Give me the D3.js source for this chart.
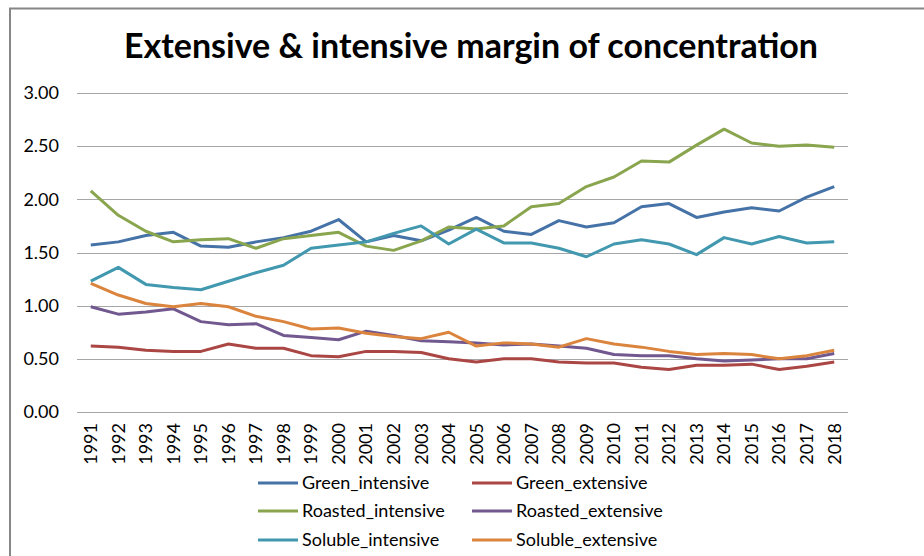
<!DOCTYPE html>
<html>
<head>
<meta charset="utf-8">
<script src="https://cdn.jsdelivr.net/npm/d3@7"></script>
<style>
  body { margin: 0; background: #fff; }
  text { font-family: Lato, "Open Sans", sans-serif; fill: #000; }
</style>
</head>
<body>
<svg id="chart" width="924" height="556"></svg>
<script>
const years = d3.range(1991, 2019).map(String);

const greenIntensive = [1.57, 1.60, 1.66, 1.69, 1.56, 1.55, 1.60, 1.64, 1.70, 1.81, 1.60, 1.66, 1.61, 1.71,
  1.83, 1.70, 1.67, 1.80, 1.74, 1.78, 1.93, 1.96, 1.83, 1.88, 1.92, 1.89, 2.02, 2.12];
const greenExtensive = [0.62, 0.61, 0.58, 0.57, 0.57, 0.64, 0.60, 0.60, 0.53, 0.52, 0.57, 0.57, 0.56, 0.50,
  0.47, 0.50, 0.50, 0.47, 0.46, 0.46, 0.42, 0.40, 0.44, 0.44, 0.45, 0.40, 0.43, 0.47];
const roastedIntensive = [2.08, 1.85, 1.70, 1.60, 1.62, 1.63, 1.54, 1.63, 1.66, 1.69, 1.56, 1.52, 1.61, 1.74,
  1.72, 1.75, 1.93, 1.96, 2.12, 2.21, 2.36, 2.35, 2.51, 2.66, 2.53, 2.50, 2.51, 2.49];
const roastedExtensive = [0.99, 0.92, 0.94, 0.97, 0.85, 0.82, 0.83, 0.72, 0.70, 0.68, 0.76, 0.72, 0.67, 0.66,
  0.65, 0.63, 0.64, 0.62, 0.60, 0.54, 0.53, 0.53, 0.50, 0.48, 0.49, 0.50, 0.50, 0.55];
const solubleIntensive = [1.23, 1.36, 1.20, 1.17, 1.15, 1.23, 1.31, 1.38, 1.54, 1.57, 1.60, 1.68, 1.75, 1.58,
  1.72, 1.59, 1.59, 1.54, 1.46, 1.58, 1.62, 1.58, 1.48, 1.64, 1.58, 1.65, 1.59, 1.60];
const solubleExtensive = [1.21, 1.10, 1.02, 0.99, 1.02, 0.99, 0.90, 0.85, 0.78, 0.79, 0.74, 0.71, 0.69, 0.75,
  0.62, 0.65, 0.64, 0.61, 0.69, 0.64, 0.61, 0.57, 0.54, 0.55, 0.54, 0.50, 0.53, 0.58];

const seriesNames = ["Green_intensive", "Green_extensive", "Roasted_intensive",
  "Roasted_extensive", "Soluble_intensive", "Soluble_extensive"];
const seriesValues = [greenIntensive, greenExtensive, roastedIntensive,
  roastedExtensive, solubleIntensive, solubleExtensive];
const yTicks = [0, 0.5, 1, 1.5, 2, 2.5, 3];

const colors = ["#4572A7", "#AA4643", "#89A54E", "#71588F", "#4198AF", "#DB843D"];

const svg = d3.select("#chart");

// outer chart border (runs off right and bottom edges)
svg.append("rect")
  .attr("x", 10).attr("y", 8.5)
  .attr("width", 940).attr("height", 600)
  .attr("fill", "none")
  .attr("stroke", "#868686")
  .attr("stroke-width", 2);

const x = d3.scaleBand()
  .domain(years)
  .range([77, 848])
  .padding(0);

const y = d3.scaleLinear()
  .domain([0, 3])
  .range([412, 93]);

// gridlines
svg.append("g")
  .selectAll("line")
  .data(yTicks)
  .enter()
  .append("line")
  .attr("x1", 77).attr("x2", 848)
  .attr("y1", d => Math.round(y(d)) + 0.5)
  .attr("y2", d => Math.round(y(d)) + 0.5)
  .attr("stroke", "#a6a6a6")
  .attr("stroke-width", 1);

// y labels
svg.append("g")
  .selectAll("text")
  .data(yTicks)
  .enter()
  .append("text")
  .attr("x", 59)
  .attr("y", d => y(d))
  .attr("dy", "0.35em")
  .attr("text-anchor", "end")
  .style("font-size", "18px")
  .text(d => d.toFixed(2));

// x labels, rotated
svg.append("g")
  .selectAll("text")
  .data(years)
  .enter()
  .append("text")
  .attr("transform", d => `translate(${x(d) + x.bandwidth() / 2},423) rotate(-90)`)
  .attr("dy", "0.35em")
  .attr("text-anchor", "end")
  .style("font-size", "18px")
  .text(d => d);

// lines
const line = d3.line()
  .x((v, i) => x(years[i]) + x.bandwidth() / 2)
  .y(v => y(v));

svg.append("g")
  .selectAll("path")
  .data(seriesValues)
  .enter()
  .append("path")
  .attr("d", d => line(d))
  .attr("fill", "none")
  .attr("stroke", (d, i) => colors[i])
  .attr("stroke-width", 3)
  .attr("stroke-linejoin", "round");

// title
svg.append("text")
  .attr("x", 471)
  .attr("y", 58)
  .attr("text-anchor", "middle")
  .style("font-size", "34px")
  .style("font-weight", "bold")
  .text("Extensive & intensive margin of concentration");

// legend, 2 columns x 3 rows
const legendCols = [258, 472];
const legendRows = [483, 511, 540];

const legend = svg.append("g")
  .selectAll("g")
  .data(seriesNames)
  .enter()
  .append("g")
  .attr("transform", (d, i) => `translate(${legendCols[i % 2]},${legendRows[Math.floor(i / 2)]})`);

legend.append("line")
  .attr("x1", 0).attr("x2", 40)
  .attr("y1", 0).attr("y2", 0)
  .attr("stroke", (d, i) => colors[i])
  .attr("stroke-width", 3);

legend.append("text")
  .attr("x", 44)
  .attr("dy", "0.35em")
  .style("font-size", "18px")
  .text(d => d);
</script>
</body>
</html>
